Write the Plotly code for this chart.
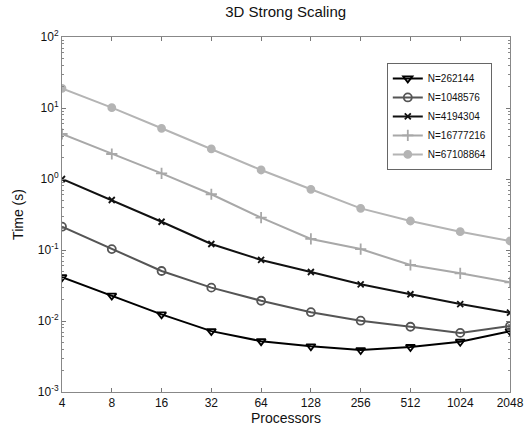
import plotly.graph_objects as go

processors = [4, 8, 16, 32, 64, 128, 256, 512, 1024, 2048]
proc_labels = ["4", "8", "16", "32", "64", "128", "256", "512", "1024", "2048"]

names = ["N=262144", "N=1048576", "N=4194304", "N=16777216", "N=67108864"]
t_262144 = [0.0413, 0.0228, 0.0124, 0.0072, 0.0052, 0.0044, 0.0039, 0.0043, 0.0051, 0.0072]
t_1048576 = [0.213, 0.103, 0.0506, 0.0295, 0.0193, 0.0133, 0.0101, 0.0083, 0.0068, 0.0085]
t_4194304 = [1.0, 0.506, 0.25, 0.1215, 0.0724, 0.049, 0.0329, 0.0238, 0.0173, 0.0131]
t_16777216 = [4.3, 2.25, 1.2, 0.61, 0.285, 0.143, 0.103, 0.0615, 0.047, 0.035]
t_67108864 = [18.9, 10.1, 5.18, 2.65, 1.34, 0.716, 0.386, 0.256, 0.181, 0.134]

series = [t_262144, t_1048576, t_4194304, t_16777216, t_67108864]
colors = ["#000000", "#555555", "#111111", "#a8a8a8", "#b4b4b4"]
symbols = ["triangle-down-open", "circle-open", "x-thin-open", "cross-thin-open", "circle"]
msizes = [8, 8, 6, 8, 7]

y_major = [1e-3, 1e-2, 1e-1, 1e0, 1e1, 1e2]
y_major_text = ["10<sup>-3</sup>", "10<sup>-2</sup>", "10<sup>-1</sup>", "10<sup>0</sup>", "10<sup>1</sup>", "10<sup>2</sup>"]

fig = go.Figure()
for name, vals, c, s, ms in zip(names, series, colors, symbols, msizes):
    fig.add_trace(go.Scatter(
        x=processors, y=vals, name=name, mode="lines+markers",
        line=dict(color=c, width=2),
        marker=dict(symbol=s, size=ms, color=c, line=dict(color=c, width=1.8)),
    ))

minor_y = [m * 10 ** k for k in range(-3, 2) for m in range(2, 10)]

fig.update_layout(
    width=529, height=427,
    margin=dict(l=62, r=19, t=37, b=35),
    paper_bgcolor="white", plot_bgcolor="white",
    font=dict(family="Liberation Sans, Arial, sans-serif", color="#111111", size=12),
    title=dict(text="3D Strong Scaling", x=0.54, xanchor="center", y=0.972, yanchor="middle",
               font=dict(size=15)),
    showlegend=True,
    legend=dict(x=0.725, y=0.927, xanchor="left", yanchor="top",
                bgcolor="white", bordercolor="#666666", borderwidth=1,
                font=dict(size=10), tracegroupgap=0, itemwidth=30),
    xaxis=dict(
        type="log", range=[0.60206, 3.31133], automargin=False,
        tickvals=processors, ticktext=proc_labels,
        ticks="inside", ticklen=4, tickcolor="#777777",
        showline=True, linecolor="#888888", linewidth=1, mirror="ticks",
        showgrid=False, zeroline=False,
        title=dict(text="Processors", font=dict(size=14), standoff=2),
        tickfont=dict(size=12),
    ),
    yaxis=dict(
        type="log", range=[-3, 2], automargin=False,
        tickvals=y_major, ticktext=y_major_text,
        ticks="inside", ticklen=4, tickcolor="#777777",
        minor=dict(tickvals=minor_y, ticks="inside", ticklen=2, tickcolor="#888888"),
        showline=True, linecolor="#888888", linewidth=1, mirror="ticks",
        showgrid=False, zeroline=False,
        title=dict(text="Time (s)", font=dict(size=14), standoff=10),
        tickfont=dict(size=12),
    ),
)

fig.write_html("out.html", config={"displayModeBar": False},
               post_script="document.body.style.margin='0';")
